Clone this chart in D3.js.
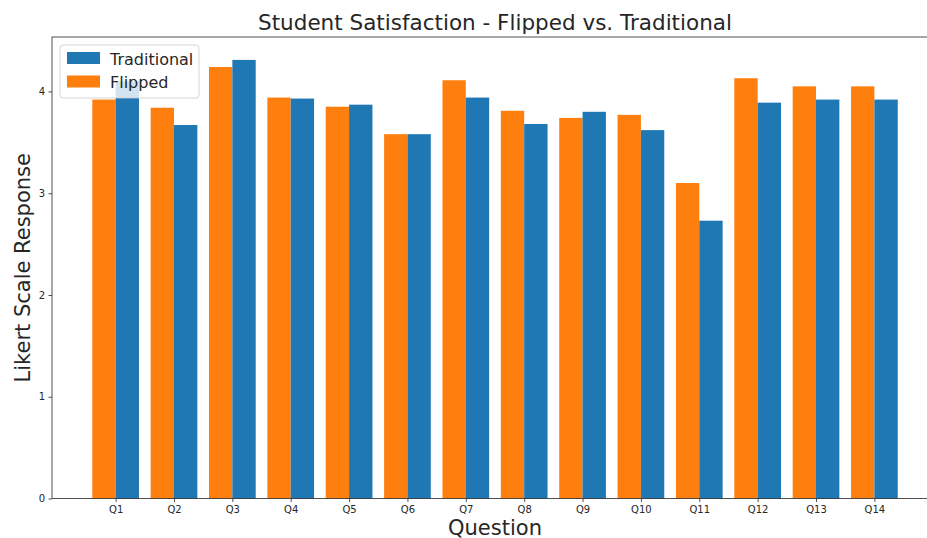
<!DOCTYPE html>
<meta charset="utf-8">
<style>
  body { margin: 0; background: #fff; }
  text { font-family: "DejaVu Sans", sans-serif; fill: #262626; }
</style>
<body>
<script src="https://cdnjs.cloudflare.com/ajax/libs/d3/7.8.5/d3.min.js"></script>
<script>

var questions = ["Q1","Q2","Q3","Q4","Q5","Q6","Q7","Q8","Q9","Q10","Q11","Q12","Q13","Q14"];
var traditional = [4.10, 3.67, 4.31, 3.93, 3.87, 3.58, 3.94, 3.68, 3.80, 3.62, 2.73, 3.89, 3.92, 3.92];
var flipped     = [3.92, 3.84, 4.24, 3.94, 3.85, 3.58, 4.11, 3.81, 3.74, 3.77, 3.10, 4.13, 4.05, 4.05];
var yTicks = [0, 1, 2, 3, 4];

var width = 927,
    height = 538;

var plotL = 52, plotR = 938, plotT = 37, plotB = 498.5;

var svg = d3.select("body").append("svg")
    .attr("width", width)
    .attr("height", height);

var x = d3.scaleLinear().domain([-1.09, 14.09]).range([plotL, plotR]);
var y = d3.scaleLinear().domain([0, 4.535]).range([plotB, plotT]);
var bw = 0.4;

var g = svg.append("g");

// flipped bars (left of tick)
g.selectAll("rect.flip").data(flipped).enter().append("rect")
    .attr("class", "flip")
    .attr("x", function(d, i) { return x(i - bw); })
    .attr("width", x(bw) - x(0))
    .attr("y", function(d) { return y(d); })
    .attr("height", function(d) { return y(0) - y(d); })
    .attr("fill", "#ff7f0e");

// traditional bars (right of tick)
g.selectAll("rect.trad").data(traditional).enter().append("rect")
    .attr("class", "trad")
    .attr("x", function(d, i) { return x(i); })
    .attr("width", x(bw) - x(0))
    .attr("y", function(d) { return y(d); })
    .attr("height", function(d) { return y(0) - y(d); })
    .attr("fill", "#1f77b4");

// axes
var xAxis = d3.axisBottom(x)
    .tickValues(d3.range(questions.length))
    .tickFormat(function(i) { return questions[i]; })
    .tickSize(3.5).tickPadding(3.5);
var yAxis = d3.axisLeft(y)
    .tickValues(yTicks)
    .tickFormat(d3.format("d"))
    .tickSize(3.5).tickPadding(3.5);

var gx = svg.append("g").attr("transform", "translate(0," + plotB + ")").call(xAxis);
var gy = svg.append("g").attr("transform", "translate(" + plotL + ",0)").call(yAxis);
[gx, gy].forEach(function(a) {
    a.select(".domain").remove();
    a.selectAll(".tick line").attr("stroke", "#262626").attr("stroke-width", 0.8);
    a.selectAll(".tick text").attr("font-size", 10).attr("fill", "#262626")
        .style("font-family", "'DejaVu Sans', sans-serif");
});

// spines
svg.append("rect")
    .attr("x", plotL).attr("y", plotT)
    .attr("width", plotR - plotL).attr("height", plotB - plotT)
    .attr("fill", "none").attr("stroke", "#262626").attr("stroke-width", 0.8);

// title and labels
svg.append("text")
    .attr("x", (plotL + plotR) / 2).attr("y", 30)
    .attr("text-anchor", "middle").attr("font-size", 21.5)
    .text("Student Satisfaction - Flipped vs. Traditional");

svg.append("text")
    .attr("x", (plotL + plotR) / 2).attr("y", 535)
    .attr("text-anchor", "middle").attr("font-size", 21)
    .text("Question");

svg.append("text")
    .attr("transform", "translate(30," + ((plotT + plotB) / 2) + ") rotate(-90)")
    .attr("text-anchor", "middle").attr("font-size", 21)
    .text("Likert Scale Response");

// legend
var legend = svg.append("g").attr("transform", "translate(60,45)");
legend.append("rect")
    .attr("width", 139).attr("height", 53).attr("rx", 3)
    .attr("fill", "#fff").attr("fill-opacity", 0.8)
    .attr("stroke", "#cccccc").attr("stroke-width", 0.8);
var items = [["Traditional", "#1f77b4"], ["Flipped", "#ff7f0e"]];
items.forEach(function(it, i) {
    legend.append("rect")
        .attr("x", 7).attr("y", 7 + i * 23.5)
        .attr("width", 33).attr("height", 12)
        .attr("fill", it[1]);
    legend.append("text")
        .attr("x", 50).attr("y", 19.5 + i * 23.5)
        .attr("font-size", 16)
        .text(it[0]);
});
</script>
